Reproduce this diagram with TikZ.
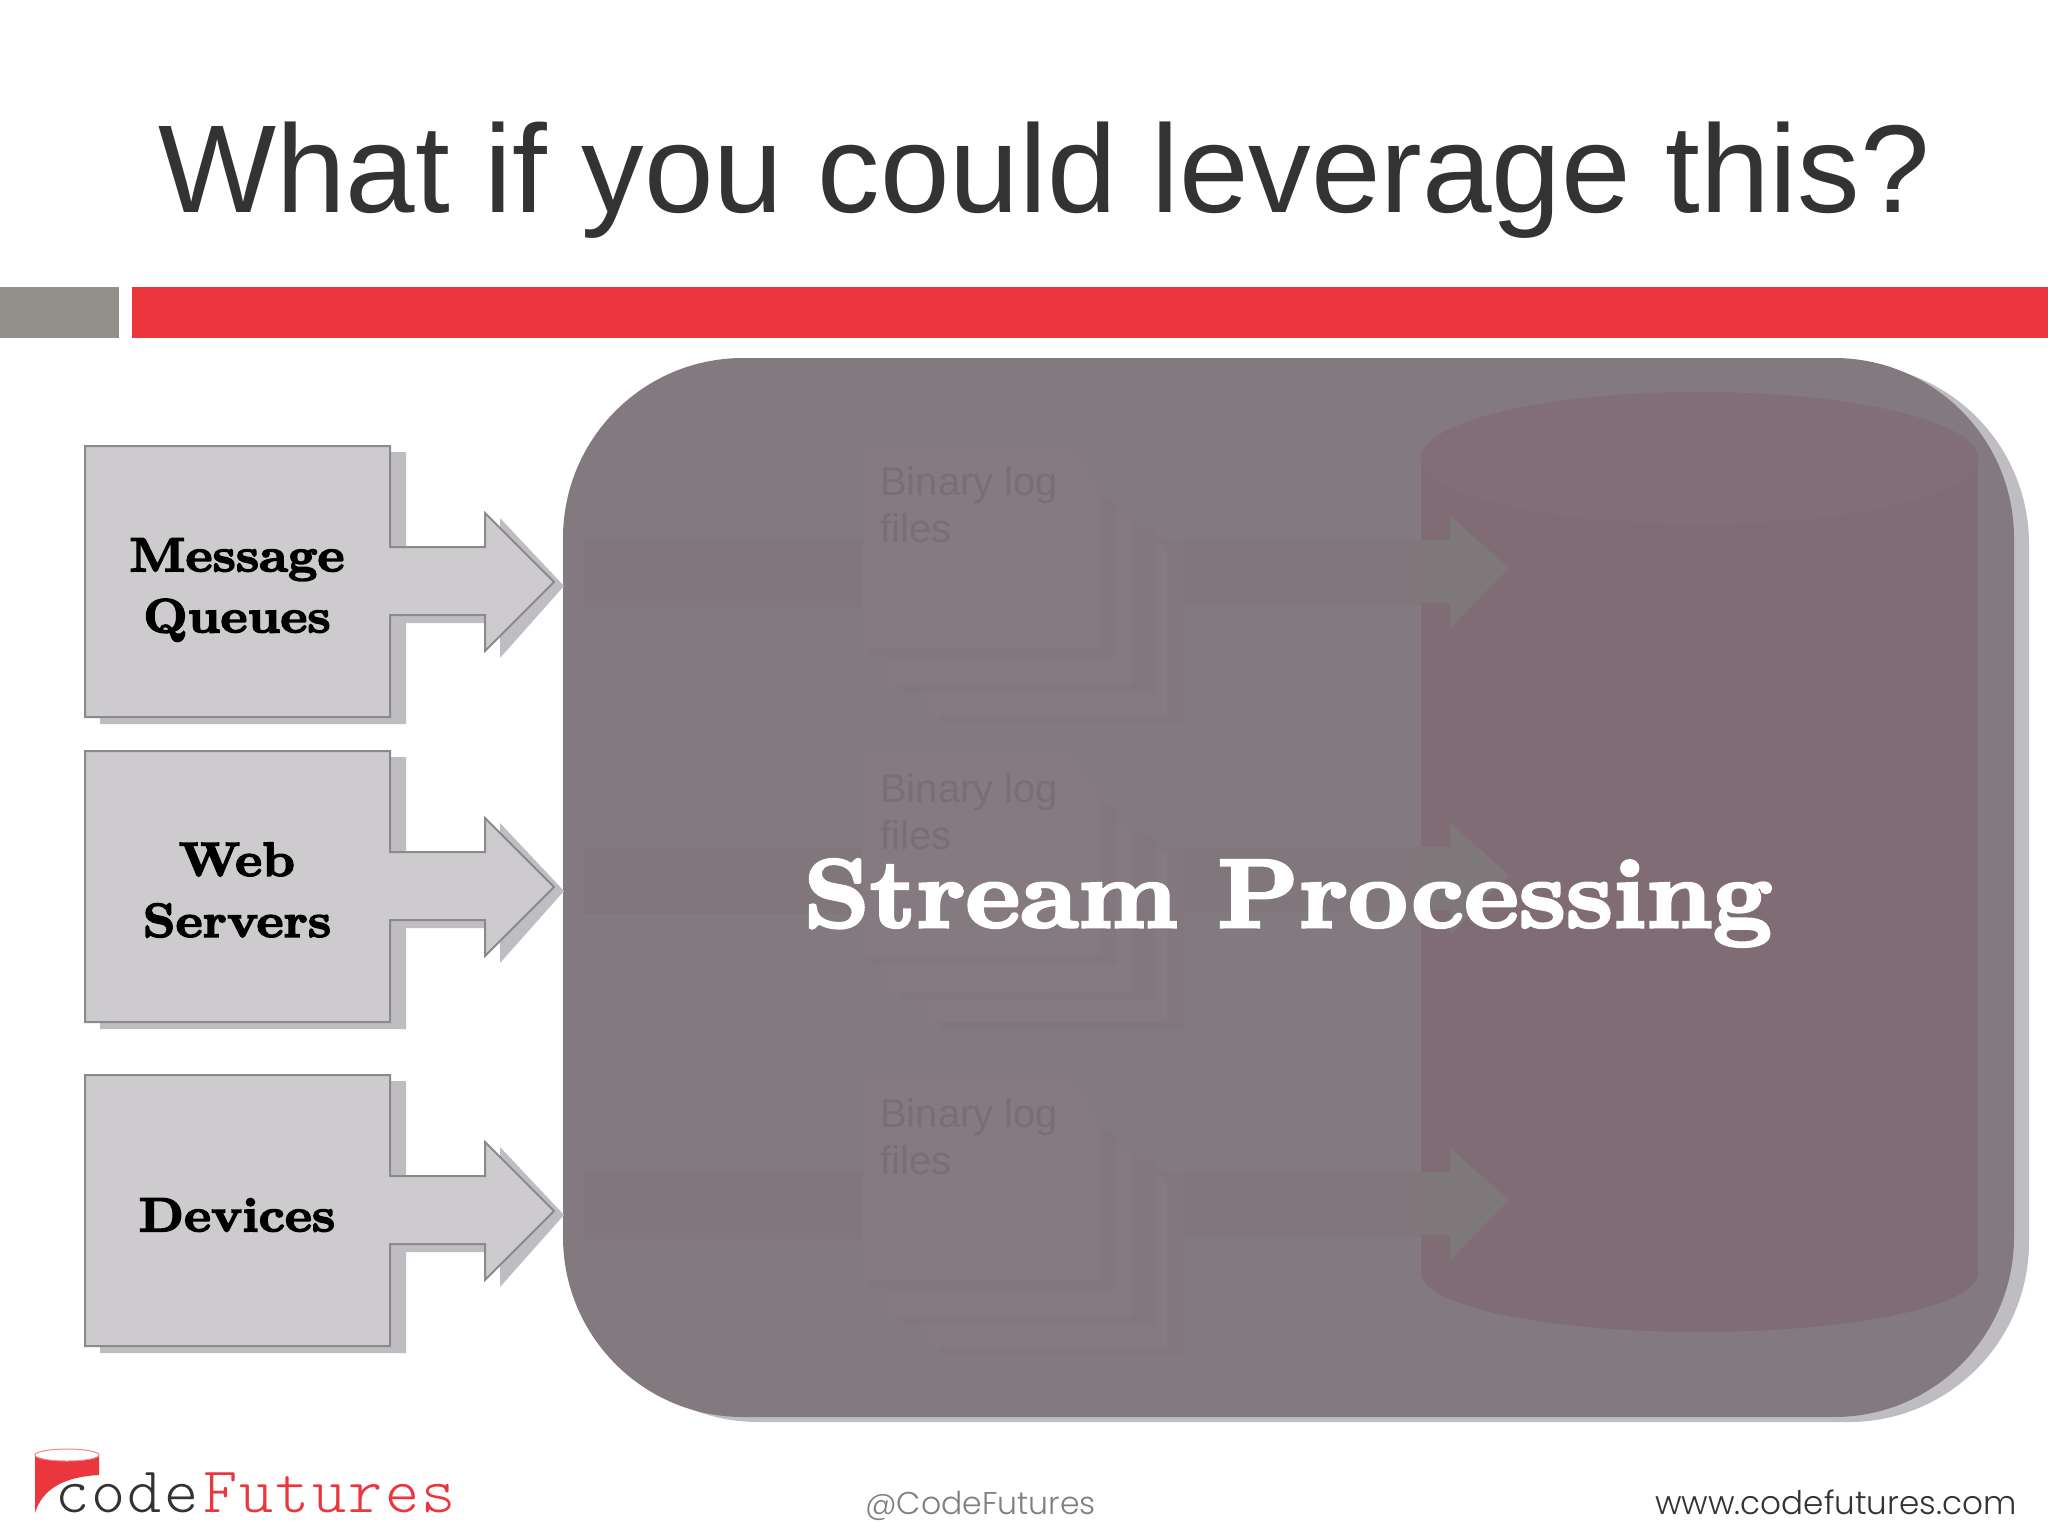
\documentclass[tikz,border=0pt]{standalone}
\usepackage{fontspec}
\setmainfont{Liberation Sans}
\newfontfamily\fatbase[Extension=.otf,FakeBold=3.2,FakeStretch=1.07]{lmroman10-bold}
\newfontfamily\logofont[LetterSpace=3.5]{Latin Modern Mono Light}
\newfontfamily\footfont{Poppins Light}
\definecolor{panelc}{HTML}{837A7F}
\definecolor{cylc}{HTML}{806C75}
\definecolor{cyltop}{HTML}{826E77}
\definecolor{bandc}{HTML}{81767B}
\definecolor{docc}{HTML}{857A7F}
\definecolor{docsh}{HTML}{81777C}
\definecolor{headc}{HTML}{7E787B}
\definecolor{faintt}{HTML}{786F74}
\definecolor{boxc}{HTML}{CDCBCD}
\definecolor{boxsh}{HTML}{BFBDC1}
\definecolor{boxln}{HTML}{8A8A8A}
\definecolor{redc}{HTML}{EA363C}
\definecolor{barc}{HTML}{938F8B}
\definecolor{inkc}{HTML}{333333}
\tikzset{
 boxshape/.style={fill=boxc,draw=boxln,line width=2pt,line join=miter},
 boxshadow/.style={fill=boxsh,draw=none},
 boxlabel/.style={font=\fatbase\fontsize{48}{61}\selectfont,align=center,text=black,inner sep=0pt},
 fainttext/.style={font=\fontsize{40}{47}\selectfont,align=left,text=faintt,anchor=north west,inner sep=0pt},
 foot/.style={inner sep=0pt,anchor=base west}
}
\newcommand{\srcbox}[1]{%
 \begin{scope}[shift={(0,#1)}]
  \fill[boxshadow] (100,452) -- (406,452) -- (406,555) -- (500,555) -- (500,518) -- (564,586) -- (500,658) -- (500,623) -- (406,623) -- (406,724) -- (100,724) -- cycle;
  \draw[boxshape] (85,446) -- (390,446) -- (390,547) -- (485,547) -- (485,513) -- (554,582) -- (485,651) -- (485,615) -- (390,615) -- (390,717) -- (85,717) -- cycle;
 \end{scope}}
\newcommand{\faintgroup}[2]{%
 \begin{scope}[shift={(0,#1)}]
  \fill[bandc] (584,540) rectangle (870,607);
  \fill[bandc] (1180,540) rectangle (1421,605);
  \fill[headc] (1421,540) rectangle (1450,603);
  \fill[headc] (1450,603) -- (1450,628) -- (1509,568) -- (1450,516) -- (1450,540) -- cycle;
  \fill[docsh] (940,485) -- (1185,545) -- (1185,722) -- (940,722) -- cycle;
  \fill[docc] (925,478) -- (1167,545) -- (1167,715) -- (925,715) -- cycle;
  \fill[docsh] (900,470) -- (1155,530) -- (1155,692) -- (900,692) -- cycle;
  \fill[docc] (885,462) -- (1132,520) -- (1132,685) -- (885,685) -- cycle;
  \fill[docsh] (870,455) -- (1116,500) -- (1116,657) -- (870,657) -- cycle;
  \fill[docc] (863,447) -- (1073,447) -- (1100,490) -- (1100,648) -- (863,648) -- cycle;
  \node[fainttext] (#2) at (880,466) {Binary log\\files};
 \end{scope}}
\begin{document}
\begin{tikzpicture}[x=1pt,y=-1pt]
\useasboundingbox (0,0) rectangle (2048,1536);
\fill[white] (0,0) rectangle (2048,1536);
\node[inner sep=0pt,anchor=base,text=inkc,font=\fontsize{125}{125}\selectfont] (title) at (1044,212) {What if you could leverage this?};
\fill[barc] (0,287) rectangle (119,338);
\fill[redc] (132,287) rectangle (2048,338);
% panel
\fill[boxsh,rounded corners=180pt] (578,364) rectangle (2029,1422);
\fill[panelc,rounded corners=180pt] (563,358) rectangle (2014,1417);
% cylinder
\fill[cylc] (1421,458) -- (1978,458) -- (1978,1273) arc[x radius=278.5,y radius=59,start angle=0,end angle=180] -- cycle;
\fill[cyltop] (1699.5,458) ellipse[x radius=278.5,y radius=66];
\faintgroup{0}{fa}
\faintgroup{307}{fb}
\faintgroup{632}{fc}
\node[inner sep=0pt,anchor=base,text=white,font=\fatbase\fontsize{97}{97}\selectfont] (sp) at (1288,927) {Stream Processing};
% source boxes
\srcbox{0}
\srcbox{305}
\srcbox{629}
\node[boxlabel] (lm) at (237,590) {Message\\Queues};
\node[boxlabel] (lw) at (237,890) {Web\\Servers};
\node[boxlabel] (ld) at (237,1215) {Devices};
% logo
\fill[redc] (35,1455) -- (35,1513) .. controls (42,1490) and (62,1477) .. (99,1475) -- (99,1455) -- cycle;
\draw[fill=white,draw=redc!60,line width=1pt] (67,1455) ellipse[x radius=32,y radius=6];
\node[foot,text=inkc,font=\logofont\fontsize{65}{65}\selectfont] (lc) at (55,1512) {code};
\node[foot,text=redc,font=\logofont\fontsize{65}{65}\selectfont] (lf) at (203,1512) {Futures};
\node[foot,text=gray,font=\footfont\fontsize{31.5}{31.5}\selectfont] (h) at (865,1514) {@CodeFutures};
\node[foot,text=inkc,font=\footfont\fontsize{32.6}{32.6}\selectfont] (w) at (1655,1514) {www.codefutures.com};
\end{tikzpicture}
\end{document}
